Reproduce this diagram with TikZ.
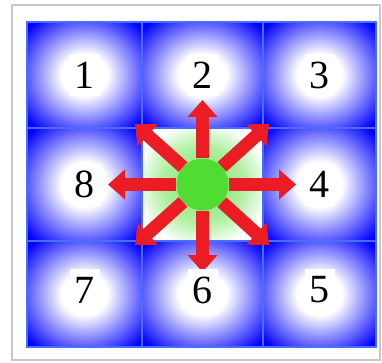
\documentclass[tikz,border=0pt]{standalone}
\usepackage{fontspec}
\setmainfont{Liberation Serif}
\usetikzlibrary{arrows.meta,positioning}
\definecolor{cellblue}{RGB}{0,0,255}
\definecolor{gridline}{RGB}{70,110,255}
\definecolor{ball}{RGB}{80,220,50}
\definecolor{arrowred}{RGB}{236,28,36}
\definecolor{framegray}{RGB}{200,200,200}
\pgfdeclareradialshading{cellglow}{\pgfpoint{0bp}{0bp}}{color(0bp)=(white); color(10bp)=(white); color(33bp)=(cellblue); color(50bp)=(cellblue)}
\pgfdeclareradialshading{startglow}{\pgfpoint{0bp}{0bp}}{color(0bp)=(ball!75!white); color(17bp)=(ball!45!white); color(28bp)=(white); color(50bp)=(white)}
\tikzset{
  cell/.style={rectangle, draw=gridline, line width=1.2pt, shading=cellglow,
               inner sep=0pt, outer sep=0pt},
  startcell/.style={cell, shading=startglow},
  num/.style={rectangle, fill=white, inner sep=0pt, minimum width=30pt, minimum height=42pt,
              font=\fontsize{40}{40}\selectfont},
  startdot/.style={circle, fill=ball, inner sep=0pt, minimum size=52pt},
  move/.style={-{Triangle[width=29pt,length=17pt]}, draw=arrowred, line width=13pt},
  frame/.style={draw=framegray, line width=2pt, fill=white}
}

\begin{document}
\begin{tikzpicture}[x=1pt, y=-1pt]
 \useasboundingbox (0,0) rectangle (382,362);
 \draw[frame] (12,5) rectangle (380,360);

 % the 3x3 neighbourhood
 \node[cell, minimum width=115pt, minimum height=106pt] (c1) at (84.5,75) {};
 \node[cell, minimum width=121pt, minimum height=106pt] (c2) at (202.5,75) {};
 \node[cell, minimum width=113pt, minimum height=106pt] (c3) at (319.5,75) {};
 \node[cell, minimum width=115pt, minimum height=113pt] (c8) at (84.5,184.5) {};
 \node[startcell, minimum width=121pt, minimum height=113pt] (c0) at (202.5,184.5) {};
 \node[cell, minimum width=113pt, minimum height=113pt] (c4) at (319.5,184.5) {};
 \node[cell, minimum width=115pt, minimum height=106pt] (c7) at (84.5,294) {};
 \node[cell, minimum width=121pt, minimum height=106pt] (c6) at (202.5,294) {};
 \node[cell, minimum width=113pt, minimum height=106pt] (c5) at (319.5,294) {};

 \node[startdot] (dot) at (c0) {};

 % arrow tips
 \coordinate (tipN) at (202.5,100);
 \coordinate (tipS) at (202.5,272);
 \coordinate (tipW) at (108,184.5);
 \coordinate (tipE) at (296,184.5);
 \coordinate (tipNW) at (135,124);
 \coordinate (tipNE) at (269,124);
 \coordinate (tipSW) at (135,245);
 \coordinate (tipSE) at (269,245);

 \draw[move] (dot) -- (tipN);\draw[move] (dot) -- (tipS);
 \draw[move] (dot) -- (tipW);\draw[move] (dot) -- (tipE);
 \draw[move] (dot) -- (tipNW);\draw[move] (dot) -- (tipNE);
 \draw[move] (dot) -- (tipSW);\draw[move] (dot) -- (tipSE);

 \node[num] (n1) at (c1) {1};
 \node[num] (n2) at (c2) {2};
 \node[num] (n3) at (c3) {3};
 \node[num] (n4) at (c4) {4};
 \node[num] (n5) at ([yshift=4pt]c5.center) {5};
 \node[num] (n6) at ([yshift=4pt]c6.center) {6};
 \node[num] (n7) at ([yshift=4pt]c7.center) {7};
 \node[num] (n8) at (c8) {8};
\end{tikzpicture}
\end{document}
